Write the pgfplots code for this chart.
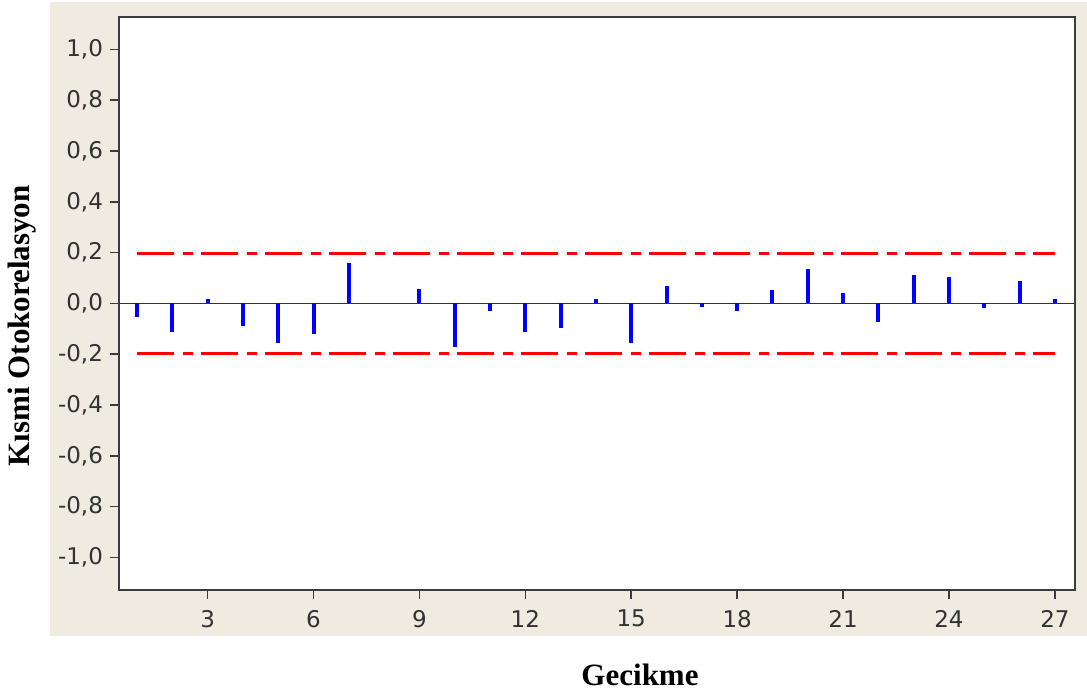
\documentclass[border=0pt]{standalone}
\usepackage{fontspec}
\setmainfont{DejaVu Sans}
\newfontfamily\labelfont{Liberation Serif}
\usepackage{pgfplots}
\pgfplotsset{compat=1.18}
\definecolor{beige}{RGB}{239,235,224}
\definecolor{ticktext}{RGB}{50,50,50}
\definecolor{axline}{RGB}{60,60,60}
\begin{document}
\begin{tikzpicture}
\path[use as bounding box] (-59.5pt,-52pt) rectangle (484pt,295pt);
\fill[beige] (-34.5pt,-23pt) rectangle (484pt,294pt);
\begin{axis}[
  at={(0pt,0pt)}, anchor=south west,
  scale only axis, width=478pt, height=286.5pt,
  xmin=0.49, xmax=27.57, ymin=-1.128, ymax=1.128,
  axis background/.style={fill=white},
  axis line style={axline, line width=0.9pt},
  xtick={3,6,9,12,15,18,21,24,27},
  ytick={-1,-0.8,-0.6,-0.4,-0.2,0,0.2,0.4,0.6,0.8,1},
  tick align=outside, tick pos=left,
  major tick length=4.5pt,
  tick style={axline, line width=0.8pt},
  /pgf/number format/assume math mode=true,
  yticklabel style={/pgf/number format/.cd, fixed, fixed zerofill, precision=1, use comma},
  ticklabel style={font=\fontsize{11.5}{13}\selectfont, text=ticktext},
  xticklabel style={yshift=-2pt},
  xlabel={\labelfont\bfseries Gecikme},
  ylabel={\labelfont\bfseries Kısmi Otokorelasyon},
  xlabel style={at={(axis description cs:0.545,0)}, anchor=center, yshift=-42.5pt, font=\fontsize{15.5}{17}\selectfont},
  ylabel style={at={(axis description cs:0,0.461)}, anchor=center, rotate=0, yshift=48.5pt, font=\fontsize{15.5}{17}\selectfont},
  clip=false,
]
\addplot[black!80, line width=0.8pt, forget plot] coordinates {(0.49,0) (27.57,0)};
\addplot[red, line width=1.5pt, dash pattern=on 18.5pt off 4.3pt on 5pt off 4.2pt] coordinates {(1,0.196) (27,0.196)};
\addplot[red, line width=1.5pt, dash pattern=on 18.5pt off 4.3pt on 5pt off 4.2pt] coordinates {(1,-0.196) (27,-0.196)};
\addplot[ycomb, blue, line width=2pt, mark=none] coordinates {
(1,-0.055) (2,-0.112) (3,0.018) (4,-0.088) (5,-0.157) (6,-0.122) (7,0.160) (8,0.0)
(9,0.059) (10,-0.173) (11,-0.029) (12,-0.113) (13,-0.097) (14,0.018) (15,-0.157)
(16,0.068) (17,-0.013) (18,-0.030) (19,0.052) (20,0.135) (21,0.043) (22,-0.072)
(23,0.113) (24,0.104) (25,-0.016) (26,0.088) (27,0.018)
};
\end{axis}
\end{tikzpicture}
\end{document}
